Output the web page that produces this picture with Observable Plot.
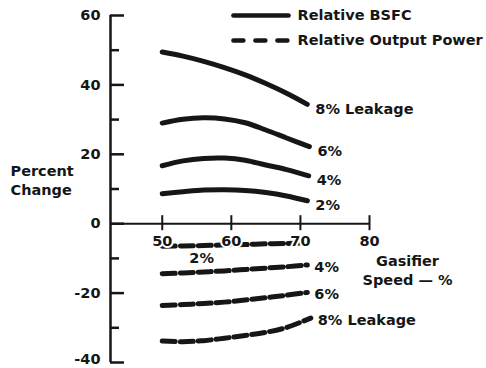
<!DOCTYPE html>
<html><head><meta charset="utf-8">
<script src="https://cdn.jsdelivr.net/npm/d3@7"></script>
<script src="https://cdn.jsdelivr.net/npm/@observablehq/plot@0.6"></script>
<style>
body{margin:0;background:#fff;}
#chart svg{overflow:visible;}
</style>
</head><body><div id="chart"></div>
<script>
// Gasifier speed (%) sample points (last point of each series given separately)
const speeds = [50, 53, 56, 59, 62, 65, 68];
const leakages = ["8%", "6%", "4%", "2%"];

// Relative BSFC (% change)
const bsfcEndSpeed = [71, 71.3, 71.2, 71];
const bsfc8 = [49.5, 48.3, 46.8, 45.0, 42.9, 40.4, 37.6, 34.4];
const bsfc6 = [29.0, 30.1, 30.5, 30.2, 29.1, 27.0, 24.7, 22.2];
const bsfc4 = [16.7, 18.1, 18.8, 18.9, 18.3, 16.9, 15.6, 13.8];
const bsfc2 = [8.6, 9.2, 9.7, 9.8, 9.6, 9.0, 8.0, 6.6];
const bsfcLabels = ["8% Leakage", "6%", "4%", "2%"];

// Relative output power (% change)
const powerEndSpeed = [71.5, 71, 71, 70.5];
const power8 = [-33.8, -34.0, -33.7, -33.0, -32.2, -31.3, -29.9, -27.2];
const power6 = [-23.6, -23.3, -23.0, -22.6, -22.0, -21.3, -20.6, -19.8];
const power4 = [-14.4, -14.2, -13.9, -13.6, -13.2, -12.8, -12.4, -11.9];
const power2 = [-6.5, -6.4, -6.3, -6.1, -6.0, -5.8, -5.7, -5.5];
const powerLabels = ["8% Leakage", "6%", "4%", null];
const power2Label = [{speed: 55.7, value: -6.2, text: "2%"}];

// Axis ticks
const xTicks = [50, 60, 70, 80];
const yMajor = [60, 40, 20, 0, -20];
const yBottom = [-40];
const yMinor = [50, 30, 10, -10, -30];
const xMin = 42.51, xMax = 80;

// Legend
const legendItems = ["Relative BSFC", "Relative Output Power"];
const legendX = [60.3, 68.28];
const legendY = [60, 52.8];

const W = 486, H = 368, mL = 110, mR = 117, mT = 15, mB = 6;
const xPerPx = (xMax - xMin) / (W - mL - mR);
const yPerPx = 100 / (H - mT - mB);

function rows(series, ends, type) {
  const out = [];
  series.forEach((vals, i) => {
    const xs = [...speeds, ends[i]];
    vals.forEach((v, j) => out.push({speed: xs[j], value: v, leak: leakages[i], type}));
  });
  return out;
}
const bsfcSeries = [bsfc8, bsfc6, bsfc4, bsfc2];
const powerSeries = [power8, power6, power4, power2];
const bsfcRows = rows(bsfcSeries, bsfcEndSpeed, "bsfc");
const powerRows = rows(powerSeries, powerEndSpeed, "power");
const bsfcEnds = leakages.map((l, i) => ({speed: bsfcEndSpeed[i], value: bsfcSeries[i].at(-1), text: bsfcLabels[i]}));
const powerEnds = leakages.map((l, i) => ({speed: powerEndSpeed[i], value: powerSeries[i].at(-1), text: powerLabels[i]})).filter(d => d.text);

const ink = "#161616";
const font = {fontFamily: "DejaVu Sans", fontWeight: "bold", fontSize: 14.5, fill: ink};

const legendRows = [];
legendItems.forEach((name, i) => legendX.forEach(x => legendRows.push({name, x, y: legendY[i]})));

const chart = Plot.plot({
  width: W, height: H,
  marginLeft: mL, marginRight: mR, marginTop: mT, marginBottom: mB,
  x: {domain: [xMin, xMax], axis: null},
  y: {domain: [-40, 60], axis: null},
  style: {fontFamily: "DejaVu Sans", background: "#fff"},
  marks: [
    // axes
    Plot.ruleX([xMin], {y1: -40, y2: 60, stroke: ink, strokeWidth: 2.5}),
    Plot.ruleY([0], {x1: xMin, x2: xMax, stroke: ink, strokeWidth: 2}),
    Plot.ruleY([...yMajor, ...yBottom], {y: d => d, x1: xMin, x2: xMin + 14 * xPerPx, stroke: ink, strokeWidth: 2.5}),
    Plot.ruleY(yMinor, {y: d => d, x1: xMin, x2: xMin + 9 * xPerPx, stroke: ink, strokeWidth: 2.5}),
    Plot.ruleX(xTicks, {x: d => d, y1: 8 * yPerPx, y2: -7 * yPerPx, stroke: ink, strokeWidth: 2}),
    Plot.text(yMajor, {x: xMin, y: d => d, text: d => String(d), textAnchor: "end", dx: -10, ...font}),
    Plot.text(yBottom, {x: xMin, y: d => d, text: d => String(d), textAnchor: "end", dx: -10, dy: -3, ...font}),
    // curves
    Plot.line(bsfcRows, {x: "speed", y: "value", z: "leak", curve: "catmull-rom", stroke: ink, strokeWidth: 5}),
    Plot.line(powerRows, {x: "speed", y: "value", z: "leak", curve: "catmull-rom", stroke: ink, strokeWidth: 5, strokeDasharray: "13,5"}),
    Plot.text(xTicks, {x: d => d, y: 0, text: d => String(d), dy: 18, ...font, stroke: "#fff", strokeWidth: 4, paintOrder: "stroke"}),
    // end labels
    Plot.text(bsfcEnds, {x: "speed", y: "value", text: "text", textAnchor: "start", dx: 8, dy: 5, ...font}),
    Plot.text(powerEnds, {x: "speed", y: "value", text: "text", textAnchor: "start", dx: 7, dy: 2, ...font}),
    Plot.text(power2Label, {x: "speed", y: "value", text: "text", dy: 13, ...font}),
    // axis titles
    Plot.text(["Percent\nChange"], {x: xMin, y: 12.7, text: d => d, textAnchor: "start", dx: -100, lineHeight: 1.3, ...font}),
    Plot.text(["Gasifier\nSpeed \u2014 %"], {x: xMax, y: -13.1, text: d => d, dx: 38, lineHeight: 1.3, ...font}),
    // legend
    Plot.line(legendRows.filter(d => d.name === legendItems[0]), {x: "x", y: "y", stroke: ink, strokeWidth: 4.5}),
    Plot.line(legendRows.filter(d => d.name === legendItems[1]), {x: "x", y: "y", stroke: ink, strokeWidth: 4.5, strokeDasharray: "10,12"}),
    Plot.text(legendItems, {x: legendX[1], y: (d, i) => legendY[i], text: d => d, textAnchor: "start", dx: 9, ...font})
  ]
});
document.getElementById("chart").appendChild(chart);
</script>
</body></html>
